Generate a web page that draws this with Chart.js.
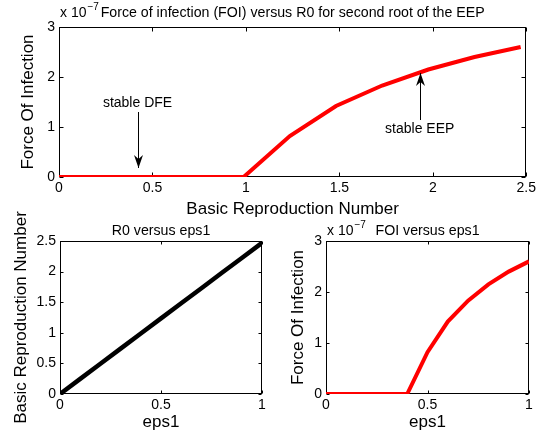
<!DOCTYPE html>
<html>
<head>
<meta charset="utf-8">
<script src="https://cdn.jsdelivr.net/npm/chart.js@4"></script>
<style>
  body { margin: 0; background: #fff; }
  #wrap { position: relative; width: 539px; height: 443px; overflow: hidden; }
  canvas { position: absolute; }
</style>
</head>
<body>
<div id="wrap">
  <canvas id="foiR0" width="539" height="225" style="left:0;top:0"></canvas>
  <canvas id="r0Eps" width="275" height="243" style="left:0;top:200px"></canvas>
  <canvas id="foiEps" width="269" height="243" style="left:270px;top:200px"></canvas>
</div>
<script>
// eps1 values used in the simulation
const eps1 = [0, 0.1, 0.2, 0.3, 0.4, 0.5, 0.6, 0.7, 0.8, 0.9, 1.0];
// basic reproduction number R0 for each eps1
const r0 = [0, 0.247, 0.494, 0.741, 0.988, 1.235, 1.482, 1.729, 1.976, 2.223, 2.47];
// force of infection, in units of 1e-7
const foi = [0, 0, 0, 0, 0, 0.82, 1.42, 1.83, 2.15, 2.40, 2.60];

const r0Ticks = [0, 0.5, 1, 1.5, 2, 2.5];
const foiTicks = [0, 1, 2, 3];
const epsTicks = [0, 0.5, 1];

// arrow notes on the top plot (data coords: R0, FOI)
const notes = [
  { text: 'stable DFE', at: [0.42, 1.48], from: [0.42, 1.30], to: [0.42, 0.18] },
  { text: 'stable EEP', at: [1.93, 0.96], from: [1.93, 1.14], to: [1.93, 2.08] }
];

const FONT = '"Liberation Sans", Arial, Helvetica, sans-serif';

function pts(xs, ys) {
  return xs.map((v, i) => ({ x: v, y: ys[i] }));
}

const matlabBox = {
  id: 'matlabBox',
  beforeDatasetsDraw(chart, args, opts) {
    const { ctx, chartArea: a, scales: { x, y } } = chart;
    const l = Math.round(a.left) + 0.5, r = Math.round(a.right) - 0.5;
    const t = Math.round(a.top) + 0.5, b = Math.round(a.bottom) - 0.5;
    ctx.save();
    ctx.strokeStyle = '#000';
    ctx.lineWidth = 1;
    ctx.strokeRect(l, t, r - l, b - t);
    const tl = opts.tick || 4;
    ctx.beginPath();
    x.ticks.forEach(tk => {
      const px = Math.round(x.getPixelForValue(tk.value)) + 0.5;
      ctx.moveTo(px, b); ctx.lineTo(px, b - tl);
      ctx.moveTo(px, t); ctx.lineTo(px, t + tl);
    });
    y.ticks.forEach(tk => {
      const py = Math.round(y.getPixelForValue(tk.value)) + 0.5;
      ctx.moveTo(l, py); ctx.lineTo(l + tl, py);
      ctx.moveTo(r, py); ctx.lineTo(r - tl, py);
    });
    ctx.stroke();
    ctx.restore();
  },
  afterDraw(chart, args, opts) {
    const { ctx, chartArea: a, scales: { x, y } } = chart;
    ctx.save();
    ctx.fillStyle = '#000';

    // axis labels
    ctx.font = '17px ' + FONT;
    ctx.textAlign = 'center';
    ctx.textBaseline = 'middle';
    ctx.fillText(opts.xTitle, (a.left + a.right) / 2, opts.xTitleY);
    ctx.save();
    ctx.translate(opts.yTitleX, (a.top + a.bottom) / 2);
    ctx.rotate(-Math.PI / 2);
    ctx.fillText(opts.yTitle, 0, 0);
    ctx.restore();

    // plot title
    ctx.font = '14.2px ' + FONT;
    ctx.textBaseline = 'alphabetic';
    ctx.fillText(opts.title, (a.left + a.right) / 2, opts.titleY);
    if (opts.expo) {
      ctx.textAlign = 'left';
      ctx.font = '14px ' + FONT;
      const ex = a.left + 1;
      ctx.fillText('x 10', ex, opts.titleY);
      const w = ctx.measureText('x 10').width;
      ctx.font = '10px ' + FONT;
      ctx.fillText('\u22127', ex + w + 1, opts.titleY - 7);
    }

    // arrow notes
    (opts.notes || []).forEach(n => {
      ctx.font = '14px ' + FONT;
      ctx.textAlign = 'center';
      ctx.textBaseline = 'middle';
      ctx.fillText(n.text, x.getPixelForValue(n.at[0]), y.getPixelForValue(n.at[1]));
      const x0 = x.getPixelForValue(n.from[0]), y0 = y.getPixelForValue(n.from[1]);
      const x1 = x.getPixelForValue(n.to[0]), y1 = y.getPixelForValue(n.to[1]);
      ctx.strokeStyle = '#000';
      ctx.lineWidth = 1;
      ctx.beginPath();
      ctx.moveTo(Math.round(x0) + 0.5, y0);
      ctx.lineTo(Math.round(x1) + 0.5, y1);
      ctx.stroke();
      const ang = Math.atan2(y1 - y0, x1 - x0);
      const hl = 13, hw = 4.5, nb = 9;
      ctx.save();
      ctx.translate(Math.round(x1) + 0.5, y1);
      ctx.rotate(ang);
      ctx.beginPath();
      ctx.moveTo(0, 0);
      ctx.lineTo(-hl, -hw);
      ctx.lineTo(-nb, 0);
      ctx.lineTo(-hl, hw);
      ctx.closePath();
      ctx.fill();
      ctx.restore();
    });
    ctx.restore();
  }
};

function axisOpts(min, max, ticks, fitKey, fitVal, isX) {
  return {
    type: 'linear',
    min: min,
    max: max,
    afterBuildTicks: s => { s.ticks = ticks.map(v => ({ value: v })); },
    ticks: {
      color: '#000',
      font: { family: FONT, size: 14 },
      padding: isX ? 3 : 4,
      maxRotation: 0,
      autoSkip: false,
      callback: v => String(Math.round(v * 100) / 100)
    },
    grid: { display: false, drawTicks: false },
    border: { display: false },
    afterFit: s => { s[fitKey] = fitVal; }
  };
}

function makeChart(id, data, color, lw, xs, ys, pad, box) {
  return new Chart(document.getElementById(id), {
    type: 'line',
    data: {
      datasets: [{
        data: data,
        borderColor: color,
        borderWidth: lw,
        pointRadius: 0,
        tension: 0,
        fill: false
      }]
    },
    options: {
      responsive: false,
      animation: false,
      layout: { padding: pad },
      plugins: {
        legend: { display: false },
        tooltip: { enabled: false },
        matlabBox: box
      },
      scales: { x: xs, y: ys }
    },
    plugins: [matlabBox]
  });
}

// top: FOI versus R0
makeChart('foiR0', pts(r0, foi), '#ff0000', 4,
  axisOpts(0, 2.5, r0Ticks, 'height', 48, true),
  axisOpts(0, 3, foiTicks, 'width', 59, false),
  { top: 27, right: 9, left: 0, bottom: 0 },
  { title: 'Force of infection (FOI) versus R0 for second root of the EEP', titleY: 17, expo: true,
    xTitle: 'Basic Reproduction Number', xTitleY: 209, yTitle: 'Force Of Infection', yTitleX: 28,
    notes: notes, tick: 4 });

// bottom left: R0 versus eps1
makeChart('r0Eps', pts(eps1, r0), '#000000', 4.5,
  axisOpts(0, 1, epsTicks, 'height', 49, true),
  axisOpts(0, 2.5, r0Ticks, 'width', 60, false),
  { top: 41, right: 13, left: 0, bottom: 0 },
  { title: 'R0 versus eps1', titleY: 35,
    xTitle: 'eps1', xTitleY: 222, yTitle: 'Basic Reproduction Number', yTitleX: 21, tick: 3 });

// bottom right: FOI versus eps1
makeChart('foiEps', pts(eps1, foi), '#ff0000', 4,
  axisOpts(0, 1, epsTicks, 'height', 49, true),
  axisOpts(0, 3, foiTicks, 'width', 56, false),
  { top: 41, right: 10, left: 0, bottom: 0 },
  { title: 'FOI versus eps1', titleY: 35, expo: true,
    xTitle: 'eps1', xTitleY: 222, yTitle: 'Force Of Infection', yTitleX: 28, tick: 3 });
</script>
</body>
</html>
